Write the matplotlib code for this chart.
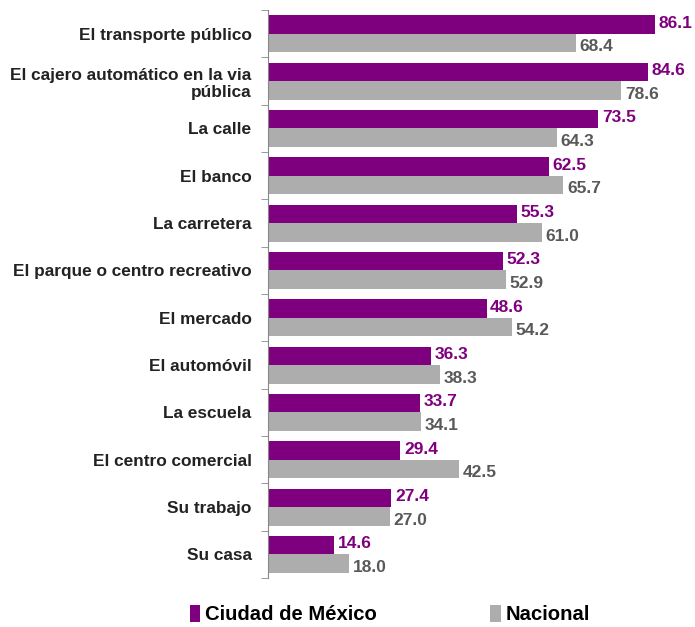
import matplotlib.pyplot as plt
import numpy as np
from matplotlib import font_manager

# data
categorias = ["El transporte público", "El cajero automático en la via\npública",
              "La calle", "El banco", "La carretera", "El parque o centro recreativo",
              "El mercado", "El automóvil", "La escuela", "El centro comercial",
              "Su trabajo", "Su casa"]
cdmx = [86.1, 84.6, 73.5, 62.5, 55.3, 52.3, 48.6, 36.3, 33.7, 29.4, 27.4, 14.6]
nacional = [68.4, 78.6, 64.3, 65.7, 61.0, 52.9, 54.2, 38.3, 34.1, 42.5, 27.0, 18.0]

morado = "#7F007F"
gris = "#ADADAD"

nombres = {f.name for f in font_manager.fontManager.ttflist}
narrow = "Liberation Sans Narrow" if "Liberation Sans Narrow" in nombres else "Liberation Sans"

plt.rcParams["font.family"] = ["Liberation Sans", "DejaVu Sans"]

fig = plt.figure(figsize=(6.95, 6.27), dpi=100)
ax = fig.add_axes([0.386, 0.078, 0.614, 0.906])

y = np.arange(len(categorias))
h = 0.39
ax.barh(y - h / 2, cdmx, height=h, color=morado, label="Ciudad de México")
ax.barh(y + h / 2, nacional, height=h, color=gris, label="Nacional")

for i in range(len(categorias)):
    ax.text(cdmx[i] + 0.8, y[i] - h / 2 - 0.03, f"{cdmx[i]:.1f}", color=morado,
            fontsize=12.5, fontweight="bold", family=narrow, va="center", ha="left")
    ax.text(nacional[i] + 0.8, y[i] + h / 2 + 0.08, f"{nacional[i]:.1f}", color="#595959",
            fontsize=12.5, fontweight="bold", family=narrow, va="center", ha="left")

ax.set_xlim(0, 95)
ax.set_ylim(len(categorias) - 0.5, -0.5)
ax.set_yticks(y)
ax.set_yticklabels(categorias, fontsize=12.4, fontweight="bold", color="#222222", ha="right")
ax.tick_params(axis="y", which="major", length=0, pad=12)
ax.set_yticks(np.arange(-0.5, len(categorias)), minor=True)
ax.tick_params(axis="y", which="minor", length=5, color="#888888", left=True)
ax.set_xticks([])
for s in ["top", "right", "bottom"]:
    ax.spines[s].set_visible(False)
ax.spines["left"].set_color("#888888")

fig.legend(loc="lower center", bbox_to_anchor=(0.561, -0.025), ncol=2, frameon=False,
           handlelength=0.5, handleheight=0.9, handletextpad=0.25,
           columnspacing=5.6, prop={"weight": "bold", "size": 14.6})

fig.savefig("out.png", dpi=100)
